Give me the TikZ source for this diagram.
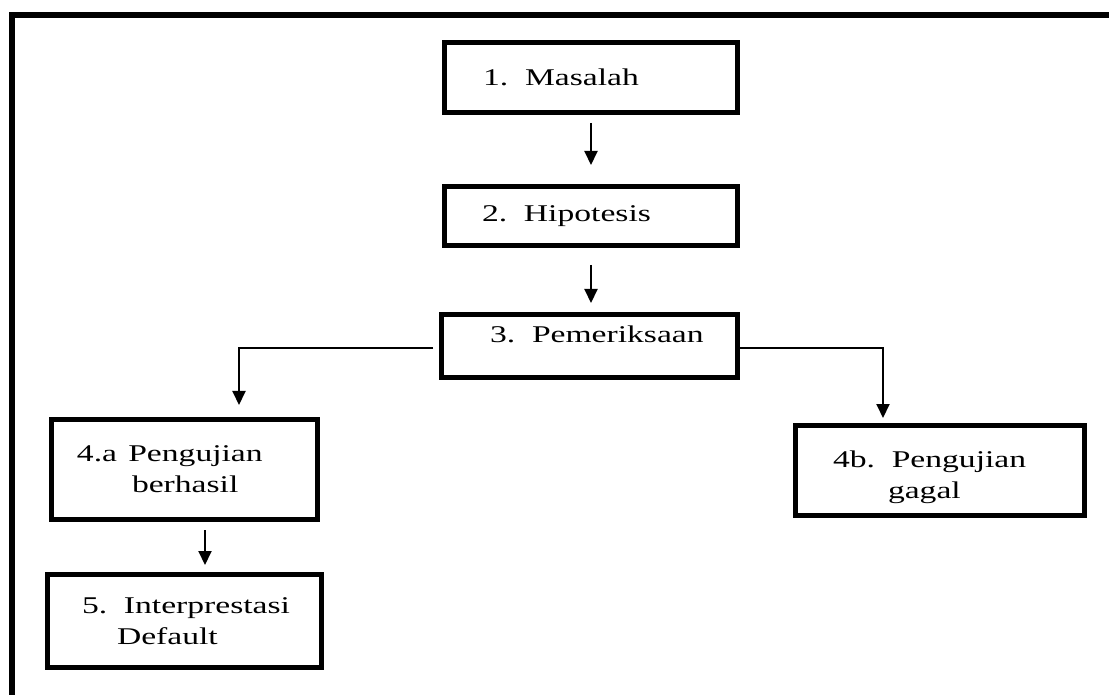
\documentclass[tikz,border=0pt]{standalone}
\usepackage{fontspec}
\setmainfont{Liberation Serif}
\usepackage{graphicx}
\usepackage{tikz}
\usetikzlibrary{arrows.meta}

\newcommand{\wide}[1]{\scalebox{1.4}[1]{#1}}

\begin{document}
\begin{tikzpicture}[x=0.5pt, y=-0.5pt,
    stepbox/.style={rectangle, draw=black, line width=2.5pt, inner xsep=0pt,
        align=left, font=\fontsize{12}{15.5}\selectfont},
    flow/.style={-{Triangle[width=6.5pt, length=7pt]}, line width=1pt}]
    \useasboundingbox (0,0) rectangle (1109,695);
    \clip (0,0) rectangle (1109,695);
    \draw[line width=3pt] (12,720) |- (1130,15);

    \node[stepbox, text width=146.5pt, minimum height=35pt] (masalah) at (591,77.5)
        {\hspace*{19.25pt}\wide{1. Masalah}};
    \node[stepbox, text width=146.5pt, minimum height=29.5pt] (hipotesis) at (591,216)
        {\hspace*{18.75pt}\wide{2. Hipotesis}};
    \node[stepbox, text width=148pt, minimum height=31.5pt, text depth=12.3pt] (periksa) at (589.5,346)
        {\hspace*{24.25pt}\wide{3. Pemeriksaan}};
    \node[stepbox, text width=133pt, minimum height=50pt] (berhasil) at (184.5,469.5)
        {\hspace*{12.75pt}\wide{4.a Pengujian}\\\hspace*{40.25pt}\wide{berhasil}};
    \node[stepbox, text width=137pt, minimum height=46.5pt] (interpretasi) at (184.5,621)
        {\hspace*{17.25pt}\wide{5. Interprestasi}\\\hspace*{34.75pt}\wide{Default}};
    \node[stepbox, text width=144.5pt, minimum height=45pt, text depth=11.75pt] (gagal) at (940,470.5)
        {\hspace*{18.75pt}\wide{4b. Pengujian}\\\hspace*{46.25pt}\wide{gagal}};

    \draw[flow, shorten <=4pt, shorten >=9.5pt] (masalah) -- (hipotesis);
    \draw[flow, shorten <=8.5pt, shorten >=4.5pt] (hipotesis.south) -- (hipotesis.south |- periksa.north);
    \draw[flow, shorten <=3pt, shorten >=6pt] ([yshift=-1pt]periksa.west) -| ([xshift=27.25pt]berhasil.north);
    \draw[flow, shorten >=2.5pt] ([yshift=-1pt]periksa.east) -| ([xshift=-28.5pt]gagal.north);
    \draw[flow, shorten <=4pt, shorten >=3.5pt] ([xshift=10.25pt]berhasil.south) -- ([xshift=10.25pt]interpretasi.north);
\end{tikzpicture}
\end{document}
